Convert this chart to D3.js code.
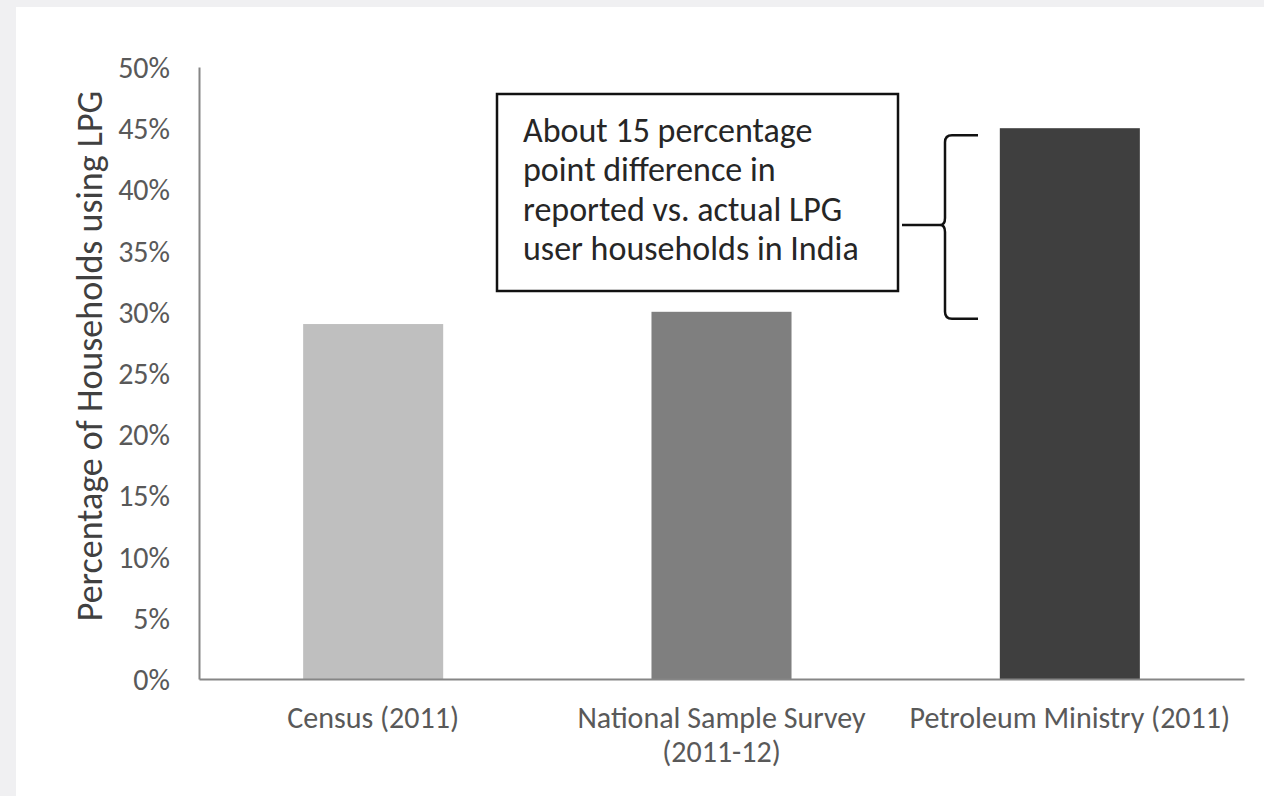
<!DOCTYPE html>
<html>
<head>
<meta charset="utf-8">
<script src="https://cdn.jsdelivr.net/npm/d3@7"></script>
<style>
  html, body { margin: 0; padding: 0; background: #f0f0f2; }
  svg { display: block; }
  text { font-family: Calibri, Carlito, Lato, sans-serif; }
</style>
</head>
<body>
<svg id="chart" width="1264" height="796"></svg>
<script>
// Share of households using LPG, by data source
const categories = ["Census (2011)", "National Sample Survey (2011-12)", "Petroleum Ministry (2011)"];
const categoryLines = [["Census (2011)"], ["National Sample Survey", "(2011-12)"], ["Petroleum Ministry (2011)"]];
const values = [29, 30, 45];
const barColors = ["#bfbfbf", "#7f7f7f", "#3f3f3f"];
const yTicks = [0, 5, 10, 15, 20, 25, 30, 35, 40, 45, 50];
const yTitle = "Percentage of Households using LPG";
const noteLines = ["About 15 percentage", "point difference in", "reported vs. actual LPG", "user households in India"];

const svg = d3.select("#chart");

// white canvas area
svg.append("rect").attr("x", 16).attr("y", 7).attr("width", 1248).attr("height", 789).attr("fill", "#ffffff");

const plot = { left: 199, right: 1244, top: 67, bottom: 679 };

const x = d3.scaleBand()
  .domain(categories)
  .range([plot.left, plot.right])
  .paddingInner(0.598)
  .paddingOuter(0.299);

const y = d3.scaleLinear().domain([0, 50]).range([plot.bottom, plot.top]);

// bars
svg.append("g").selectAll("rect")
  .data(values)
  .join("rect")
  .attr("x", (d, i) => x(categories[i]))
  .attr("y", d => y(d))
  .attr("width", x.bandwidth())
  .attr("height", d => y(0) - y(d))
  .attr("fill", (d, i) => barColors[i]);

// y axis
const yAxis = svg.append("g")
  .attr("transform", `translate(${plot.left},0)`)
  .call(d3.axisLeft(y).tickValues(yTicks).tickFormat(d => d + "%").tickSize(0).tickPadding(29));
yAxis.select(".domain").attr("stroke", "#868686").attr("stroke-width", 2);
yAxis.selectAll(".tick text")
  .attr("fill", "#595959")
  .style("font-size", "30px")
  .attr("dy", "0.35em");

// x axis
const xAxis = svg.append("g")
  .attr("transform", `translate(0,${plot.bottom})`)
  .call(d3.axisBottom(x).tickSize(0).tickFormat(""));
xAxis.select(".domain").attr("stroke", "#868686").attr("stroke-width", 2);
xAxis.selectAll(".tick").each(function (d, i) {
  const t = d3.select(this).append("text")
    .attr("fill", "#595959")
    .attr("text-anchor", "middle")
    .style("font-size", "30px");
  categoryLines[i].forEach((line, k) => {
    t.append("tspan").attr("x", 0).attr("y", 49 + k * 34).text(line);
  });
});

// y axis title
svg.append("text")
  .attr("transform", `translate(102,356) rotate(-90)`)
  .attr("text-anchor", "middle")
  .attr("fill", "#404040")
  .style("font-size", "36px")
  .text(yTitle);

// annotation box
const box = { x: 497, y: 94, w: 401, h: 197 };
svg.append("rect")
  .attr("x", box.x).attr("y", box.y).attr("width", box.w).attr("height", box.h)
  .attr("fill", "#ffffff").attr("stroke", "#111111").attr("stroke-width", 2.5);
const note = svg.append("text").attr("fill", "#262626").style("font-size", "34px");
noteLines.forEach((line, k) => {
  note.append("tspan").attr("x", box.x + 26).attr("y", box.y + 48 + k * 39.3).text(line);
});

// brace spanning the gap between the survey bar and the ministry bar
const braceTop = y(values[2]) + 7;
const braceBottom = y(values[1]) + 7;
const braceMid = (braceTop + braceBottom) / 2 - 2;
const bx = 945, tipX = 940, hookX = 978, r = 7;
const brace = d3.path();
brace.moveTo(hookX, braceTop);
brace.lineTo(bx + r, braceTop);
brace.quadraticCurveTo(bx, braceTop, bx, braceTop + r);
brace.lineTo(bx, braceMid - r);
brace.quadraticCurveTo(bx, braceMid, tipX, braceMid);
brace.quadraticCurveTo(bx, braceMid, bx, braceMid + r);
brace.lineTo(bx, braceBottom - r);
brace.quadraticCurveTo(bx, braceBottom, bx + r, braceBottom);
brace.lineTo(hookX, braceBottom);
svg.append("path").attr("d", brace.toString())
  .attr("fill", "none").attr("stroke", "#111111").attr("stroke-width", 2.5);
svg.append("line")
  .attr("x1", box.x + box.w + 4).attr("x2", tipX)
  .attr("y1", braceMid).attr("y2", braceMid)
  .attr("stroke", "#111111").attr("stroke-width", 2.5);
</script>
</body>
</html>
